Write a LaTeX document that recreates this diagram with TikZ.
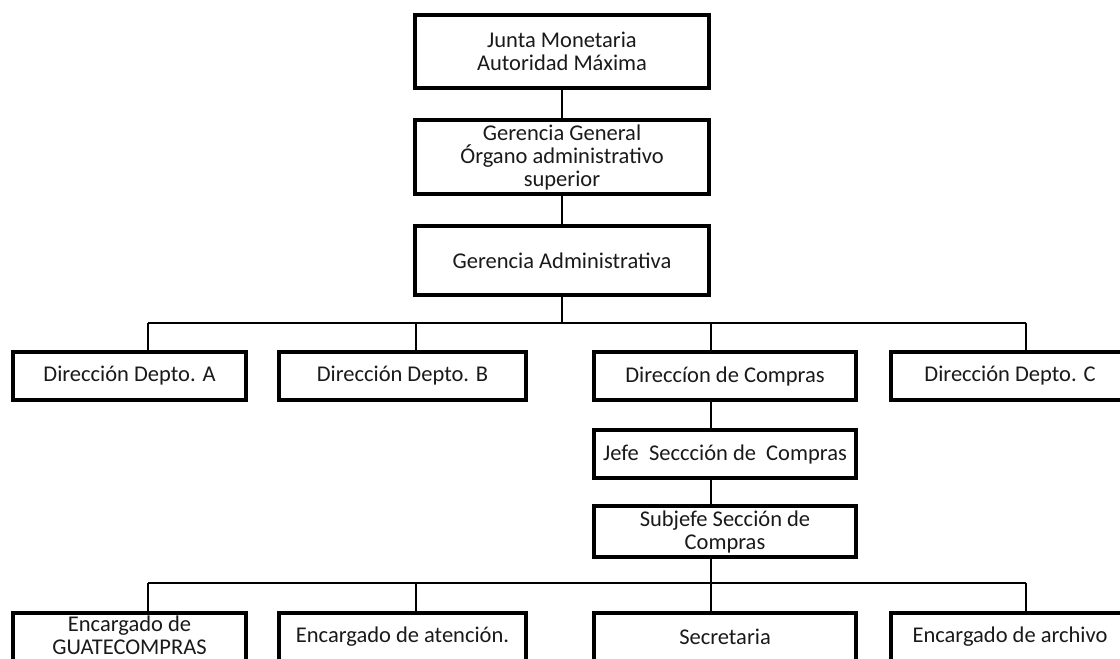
\documentclass[tikz,border=0pt]{standalone}
\usepackage{fontspec}
\setmainfont{Carlito}
\usepackage{tikz}
\usetikzlibrary{positioning}
\definecolor{orgink}{HTML}{000000}
\definecolor{orgtext}{HTML}{1A1A1A}
\tikzset{
  orgbox/.style={draw=orgink, line width=4pt, fill=white, align=center, text=orgtext,
    font=\fontsize{22.5}{23}\selectfont, inner sep=1pt, minimum height=48pt},
  orgtop/.style={orgbox, minimum width=294pt},
  orglink/.style={draw=orgink, line width=2.6pt},
  orgbus/.style={draw=orgink, line width=2pt}
}

\begin{document}
\begin{tikzpicture}[x=1pt, y=-1pt]
\useasboundingbox (0,0) rectangle (1120,659);
\clip (0,0) rectangle (1120,659);
% upper chain
\node[orgtop, minimum height=73pt] (junta) at (562,51.5) {Junta Monetaria\\Autoridad Máxima};
\node[orgtop, minimum height=74pt, below=28pt of junta] (gerencia)
  {Gerencia General\\Órgano administrativo\\superior};
\node[orgtop, minimum height=69pt, below=28pt of gerencia] (admin) {Gerencia Administrativa};
% second row
\node[orgbox, minimum width=233pt] (dirA) at (129.5,376) {Dirección Depto. A};
\node[orgbox, minimum width=247pt, right=29pt of dirA] (dirB) {Dirección Depto. B};
\node[orgbox, minimum width=262pt, right=64pt of dirB] (compras) {Direccíon de Compras};
\node[orgbox, minimum width=238pt, right=31pt of compras] (dirC) {Dirección Depto. C};
% purchasing section
\node[orgbox, minimum width=262pt, below=26pt of compras] (jefe) {Jefe\ \ Seccción de\ \ Compras};
\node[orgbox, minimum width=262pt, minimum height=51pt, below=24pt of jefe] (subjefe)
  {Subjefe Sección de\\Compras};
% bottom row
\node[orgbox, minimum width=233pt] (guate) at (129.5,637)
  {Encargado de\\GUATECOMPRAS\rule[-4pt]{0pt}{0pt}};
\node[orgbox, minimum width=247pt, right=29pt of guate] (atencion) {Encargado de atención.};
\node[orgbox, minimum width=262pt, right=64pt of atencion] (secre) {Secretaria};
\node[orgbox, minimum width=238pt, right=31pt of secre] (archivo) {Encargado de archivo};
\coordinate (bus1) at (562,323);
\coordinate (bus2) at (711,583);
\draw[orglink] (junta) -- (gerencia);
\draw[orglink] (gerencia) -- (admin);
\draw[orglink] (admin.south) -- (bus1);
\draw[orgbus] ([xshift=18.5pt]dirA.north |- bus1) -- ([xshift=16pt]dirC.north |- bus1);
\draw[orglink] ([xshift=18.5pt]dirA.north |- bus1) -- ([xshift=18.5pt]dirA.north);
\draw[orglink] ([xshift=13.5pt]dirB.north |- bus1) -- ([xshift=13.5pt]dirB.north);
\draw[orglink] ([xshift=-14pt]compras.north |- bus1) -- ([xshift=-14pt]compras.north);
\draw[orglink] ([xshift=16pt]dirC.north |- bus1) -- ([xshift=16pt]dirC.north);
\draw[orglink] ([xshift=-14pt]compras.south) -- ([xshift=-14pt]jefe.north);
\draw[orglink] ([xshift=-14pt]jefe.south) -- ([xshift=-14pt]subjefe.north);
\draw[orglink] ([xshift=-14pt]subjefe.south) -- (bus2);
\draw[orgbus] ([xshift=18.5pt]guate.north |- bus2) -- ([xshift=16pt]archivo.north |- bus2);
\draw[orglink] ([xshift=18.5pt]guate.north |- bus2) -- ([xshift=18.5pt]guate.north);
\draw[orglink] ([xshift=13.5pt]atencion.north |- bus2) -- ([xshift=13.5pt]atencion.north);
\draw[orglink] ([xshift=-14pt]secre.north |- bus2) -- ([xshift=-14pt]secre.north);
\draw[orglink] ([xshift=16pt]archivo.north |- bus2) -- ([xshift=16pt]archivo.north);
\end{tikzpicture}
\end{document}
